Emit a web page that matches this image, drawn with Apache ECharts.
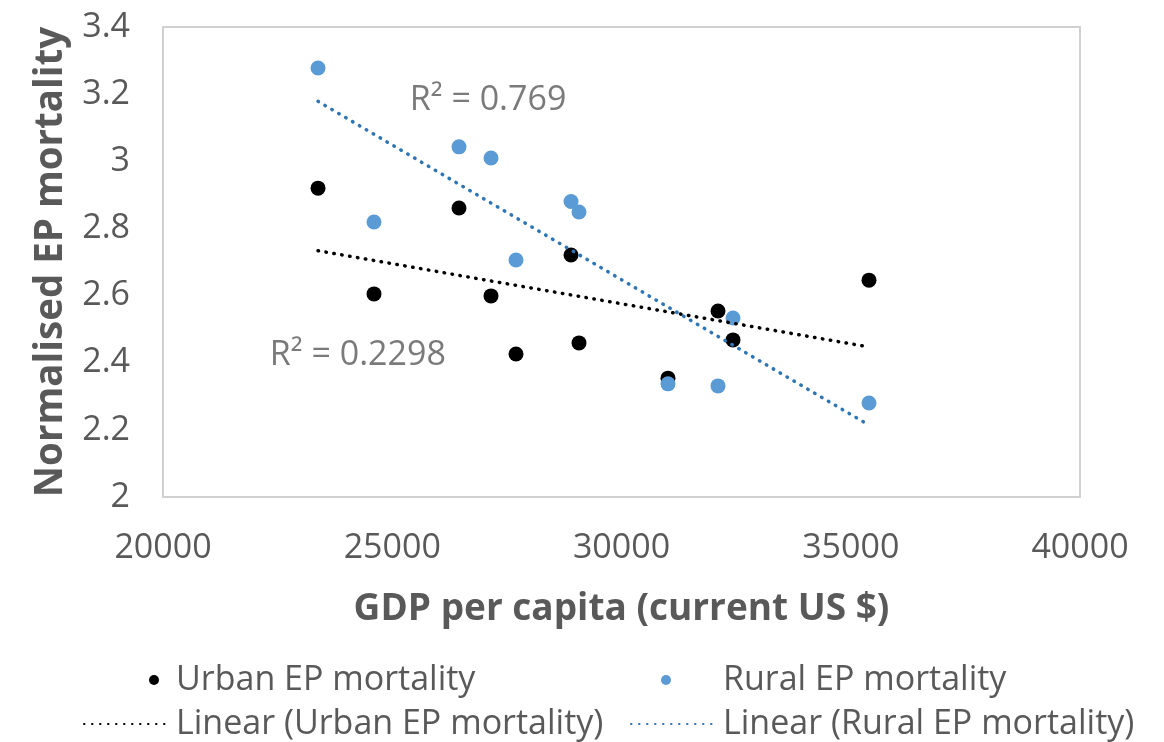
<!DOCTYPE html>
<html>
<head>
<meta charset="utf-8">
<script src="https://cdn.jsdelivr.net/npm/echarts@6/dist/echarts.min.js"></script>
<style>
html,body{margin:0;padding:0;background:#fff;}
#chart{width:1164px;height:742px;}
</style>
</head>
<body>
<div id="chart"></div>
<script>
// GDP per capita (current US $)
const gdp = [23381, 24602, 26456, 27154, 27699, 28899, 29073, 31014, 32105, 32432, 35398];
const urbanMortality = [2.920, 2.605, 2.861, 2.599, 2.426, 2.721, 2.459, 2.354, 2.554, 2.468, 2.646];
const ruralMortality = [3.278, 2.819, 3.043, 3.010, 2.706, 2.880, 2.849, 2.337, 2.331, 2.533, 2.280];
const xTicks = [20000, 25000, 30000, 35000, 40000];
const yTicks = [2, 2.2, 2.4, 2.6, 2.8, 3, 3.2, 3.4];
const r2Labels = [
  { text: 'R² = 0.769', x: 27090, y: 3.183 },
  { text: 'R² = 0.2298', x: 24250, y: 2.423 }
];

function linearFit(xs, ys) {
  const n = xs.length;
  const mx = xs.reduce((a, b) => a + b, 0) / n;
  const my = ys.reduce((a, b) => a + b, 0) / n;
  let sxy = 0, sxx = 0;
  for (let i = 0; i < n; i++) { sxy += (xs[i] - mx) * (ys[i] - my); sxx += (xs[i] - mx) ** 2; }
  const b = sxy / sxx, a = my - b * mx;
  const x0 = Math.min(...xs), x1 = Math.max(...xs);
  return [[x0, a + b * x0], [x1, a + b * x1]];
}

const FONT = 'Open Sans';
const GREY = '#595959';
const names = ['Urban EP mortality', 'Rural EP mortality', 'Linear (Urban EP mortality)', 'Linear (Rural EP mortality)'];

const chart = echarts.init(document.getElementById('chart'));
const legendText = { color: GREY, fontSize: 34, fontFamily: FONT, lineHeight: 40 };
chart.setOption({
  animation: false,
  grid: { left: 163, right: 84, top: 27, bottom: 245, show: true, borderColor: '#d0d0d0', borderWidth: 2, backgroundColor: '#fff' },
  xAxis: {
    type: 'value', min: xTicks[0], max: xTicks[xTicks.length - 1], interval: 5000,
    splitLine: { show: false }, axisTick: { show: false },
    axisLine: { show: true, lineStyle: { color: '#d0d0d0', width: 2 } },
    axisLabel: { color: GREY, fontSize: 34, fontFamily: FONT, margin: 34, formatter: v => String(v) },
    name: 'GDP per capita (current US $)', nameLocation: 'middle', nameGap: 94,
    nameTextStyle: { color: GREY, fontSize: 37, fontWeight: 'bold', fontFamily: FONT }
  },
  yAxis: {
    type: 'value', min: yTicks[0], max: yTicks[yTicks.length - 1], interval: 0.2,
    splitLine: { show: false }, axisTick: { show: false },
    axisLine: { show: true, lineStyle: { color: '#d0d0d0', width: 2 } },
    axisLabel: { color: GREY, fontSize: 34, fontFamily: FONT, margin: 33, formatter: v => String(+v.toFixed(1)) },
    name: 'Normalised EP mortality', nameLocation: 'middle', nameGap: 92,
    nameTextStyle: { color: GREY, fontSize: 38.5, fontWeight: 'bold', fontFamily: FONT }
  },
  legend: [
    { data: [names[0]], left: 149, top: 660, padding: 0, icon: 'circle', itemWidth: 24, itemHeight: 10, textStyle: Object.assign({}, legendText, { padding: [0, 0, 0, 5] }), selectedMode: false },
    { data: [names[1]], left: 661, top: 660, padding: 0, icon: 'circle', itemWidth: 24, itemHeight: 10, textStyle: Object.assign({}, legendText, { padding: [0, 0, 0, 40] }), selectedMode: false },
    { data: [names[2]], left: 83, top: 704, padding: 0, itemWidth: 84, itemHeight: 10, textStyle: Object.assign({}, legendText, { padding: [0, 0, 0, 3] }), selectedMode: false },
    { data: [names[3]], left: 630, top: 704, padding: 0, itemWidth: 84, itemHeight: 10, textStyle: Object.assign({}, legendText, { padding: [0, 0, 0, 3] }), selectedMode: false }
  ],
  series: [
    { name: names[2], type: 'line', data: linearFit(gdp, urbanMortality), symbol: 'none', z: 3,
      lineStyle: { color: '#000', width: 3.5, type: [0.5, 7.5], cap: 'round' }, itemStyle: { color: 'rgba(0,0,0,0)' } },
    { name: names[3], type: 'line', data: linearFit(gdp, ruralMortality), symbol: 'none', z: 3,
      lineStyle: { color: '#2e75b6', width: 3.5, type: [0.5, 7.5], cap: 'round' }, itemStyle: { color: 'rgba(0,0,0,0)' } },
    { name: names[0], type: 'scatter', data: gdp.map((x, i) => [x, urbanMortality[i]]), symbolSize: 15, z: 2,
      itemStyle: { color: '#000', opacity: 1 } },
    { name: names[1], type: 'scatter', data: gdp.map((x, i) => [x, ruralMortality[i]]), symbolSize: 15, z: 2,
      itemStyle: { color: '#5b9bd5', opacity: 1 } },
    { name: 'r2', type: 'scatter', silent: true, symbolSize: 0, z: 4,
      data: r2Labels.map(d => ({ value: [d.x, d.y], label: { show: true, formatter: d.text, position: 'inside', color: GREY, fontSize: 34, fontFamily: FONT } })) }
  ]
});
</script>
</body>
</html>
